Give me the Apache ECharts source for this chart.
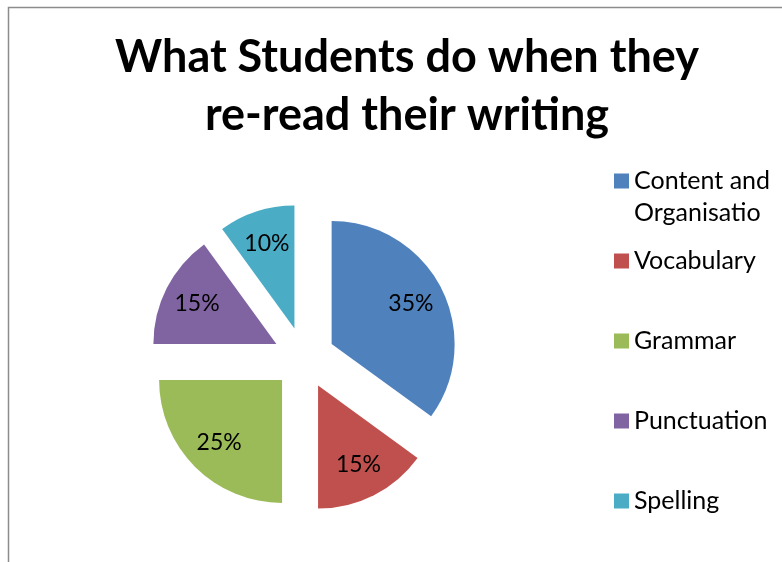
<!DOCTYPE html>
<html>
<head>
<meta charset="utf-8">
<script src="https://cdn.jsdelivr.net/npm/echarts@6/dist/echarts.min.js"></script>
<style>
  html, body { margin: 0; padding: 0; background: #ffffff; }
  #chart { width: 782px; height: 562px; }
</style>
</head>
<body>
<div id="chart"></div>
<script>
// Survey categories and their shares (percent)
const categories = ['Content and\nOrganisatio', 'Vocabulary', 'Grammar', 'Punctuation', 'Spelling'];
const shares = [35, 15, 25, 15, 10];
const colors = ['#4F81BD', '#C0504D', '#9BBB59', '#8064A2', '#4BACC6'];
const titleLines = ['What Students do when they', 're-read their writing'];

const FONT = 'Lato, "Open Sans", sans-serif';
const CENTER = [304, 358];
const R = 123;
const EXPLODE = 31;

const sliceData = categories.map((name, i) => ({
  name: name,
  value: shares[i],
  selected: true,
  itemStyle: { color: colors[i] }
}));

// Legend rows: vertical centre of each marker
const legendRowY = [181, 261, 341, 421, 501];
const LINE_H = 32;
const legends = categories.map((name, i) => {
  const twoLine = name.indexOf('\n') >= 0;
  return {
    data: [name],
    orient: 'vertical',
    left: 614,
    // a wrapped name gets an empty leading line so its first line sits beside the marker
    top: twoLine ? legendRowY[i] - 1.5 * LINE_H : legendRowY[i] - LINE_H / 2,
    padding: 0,
    icon: 'rect',
    itemWidth: 15,
    itemHeight: 15,
    itemGap: 0,
    selectedMode: false,
    formatter: twoLine ? (n => '\u00a0\n' + n) : '{name}',
    textStyle: {
      fontFamily: FONT,
      fontSize: 25,
      color: '#000',
      lineHeight: LINE_H
    }
  };
});

const chart = echarts.init(document.getElementById('chart'), null, { renderer: 'canvas' });
chart.setOption({
  animation: false,
  backgroundColor: '#ffffff',
  title: {
    text: titleLines.join('\n'),
    left: 402,
    top: 23,
    textAlign: 'center',
    textStyle: {
      fontFamily: FONT,
      fontWeight: 'bold',
      fontSize: 45,
      lineHeight: 58,
      color: '#000'
    }
  },
  legend: legends,
  graphic: [{
    type: 'polyline',
    shape: { points: [[8.5, 600], [8.5, 7.5], [800, 7.5]] },
    style: { fill: null, stroke: '#8c8c8c', lineWidth: 1.5 },
    silent: true
  }],
  series: [
    {
      // the wedges
      type: 'pie',
      center: CENTER,
      radius: [0, R],
      startAngle: 90,
      clockwise: true,
      selectedMode: 'multiple',
      selectedOffset: EXPLODE,
      avoidLabelOverlap: false,
      label: { show: false },
      labelLine: { show: false },
      emphasis: { disabled: true },
      data: sliceData
    },
    {
      // transparent ring carrying the percentage labels
      type: 'pie',
      center: CENTER,
      radius: [49, R],
      startAngle: 90,
      clockwise: true,
      selectedMode: 'multiple',
      selectedOffset: EXPLODE,
      silent: true,
      avoidLabelOverlap: false,
      itemStyle: { color: 'rgba(0,0,0,0)' },
      label: {
        show: true,
        position: 'inside',
        formatter: p => p.value + '%',
        fontFamily: FONT,
        fontSize: 23,
        color: '#000'
      },
      labelLine: { show: false },
      emphasis: { disabled: true },
      data: categories.map((name, i) => ({ name: name, value: shares[i], selected: true }))
    }
  ]
});
</script>
</body>
</html>
